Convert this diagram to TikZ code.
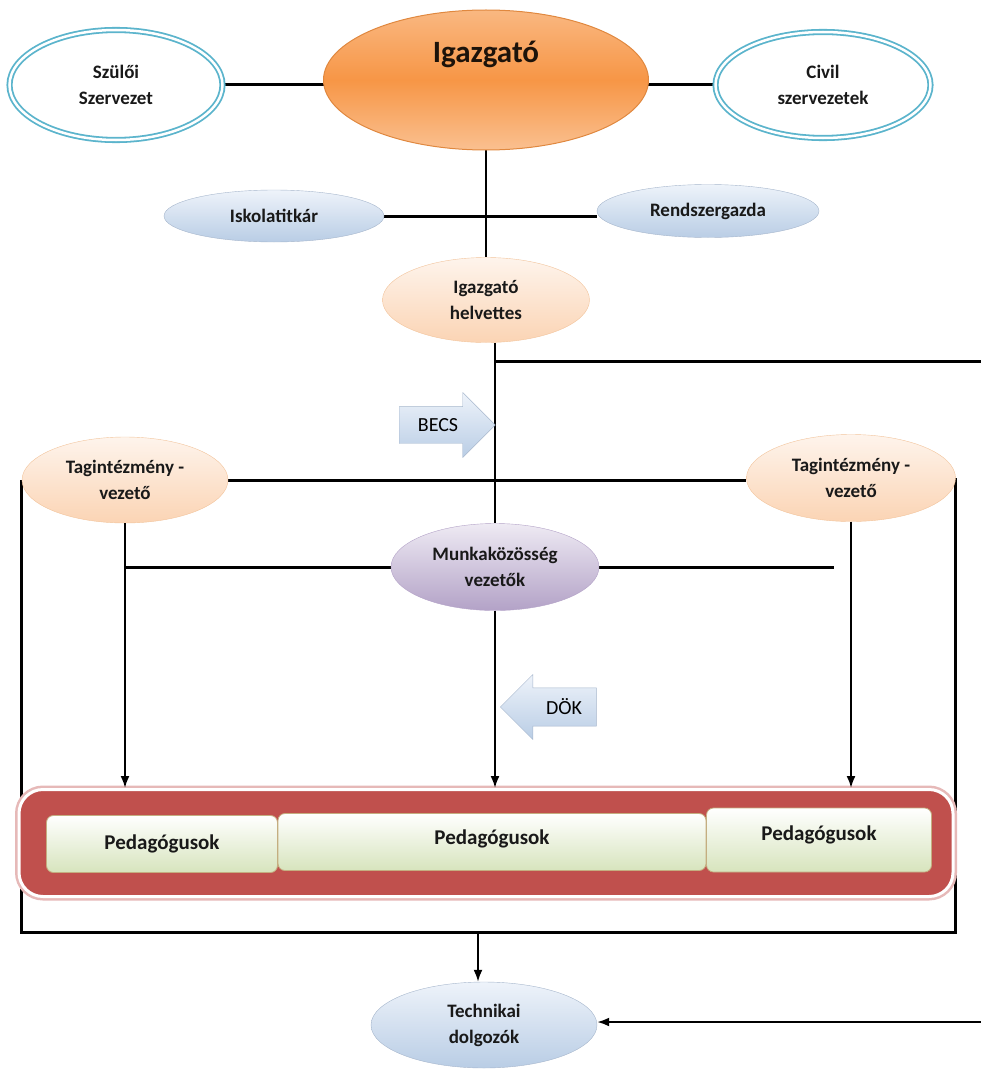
\documentclass[tikz,border=0pt]{standalone}
\usepackage{fontspec}
\setmainfont{Carlito}
\usetikzlibrary{shapes.geometric,shapes.arrows,arrows.meta,backgrounds}

\definecolor{narancs}{HTML}{F79646}
\definecolor{narancsvil}{HTML}{FAC090}
\definecolor{narancskeret}{HTML}{E0883F}
\definecolor{gyuru}{HTML}{5BB4CC}
\definecolor{kekvil}{HTML}{EEF3FA}
\definecolor{kek}{HTML}{B9CDE5}
\definecolor{kekkeret}{HTML}{A6B6CC}
\definecolor{barack}{HTML}{FBD4B4}
\definecolor{barackvil}{HTML}{FEF4EC}
\definecolor{barackkeret}{HTML}{F2C49C}
\definecolor{lila}{HTML}{B3A2C7}
\definecolor{lilavil}{HTML}{EEEAF3}
\definecolor{piros}{HTML}{C0504D}
\definecolor{rozsa}{HTML}{E6B9B8}
\definecolor{zold}{HTML}{D7E4BD}
\definecolor{zoldkeret}{HTML}{C4AE80}

\tikzset{
  cimke/.style={font=\bfseries\fontsize{19}{26}\selectfont, align=center, text=black!90},
  fonok/.style={ellipse, inner sep=0pt, draw=narancskeret, line width=1pt,
    top color=narancsvil!80!narancs, bottom color=narancsvil, middle color=narancs},
  gyurus/.style={cimke, ellipse, inner sep=0pt, draw=gyuru, double=white,
    double distance=2.5pt, line width=1.8pt, fill=white},
  kekes/.style={cimke, ellipse, inner sep=0pt, draw=kekkeret, top color=kekvil, bottom color=kek},
  barackos/.style={cimke, ellipse, inner sep=0pt, draw=barackkeret, top color=barackvil, bottom color=barack},
  lilas/.style={cimke, ellipse, inner sep=0pt, draw=lila, top color=lilavil, bottom color=lila},
  nyil/.style={single arrow, single arrow head extend=12pt, single arrow head indent=0pt,
    inner xsep=0pt, inner ysep=9pt, minimum width=65pt, minimum height=96pt, draw=kekkeret,
    top color=kekvil, bottom color=kek, font=\fontsize{20}{24}\selectfont},
  tanar/.style={cimke, font=\bfseries\fontsize{21}{25}\selectfont, rounded corners=7pt,
    draw=zoldkeret, line width=0.8pt, top color=white, bottom color=zold, inner sep=0pt},
  vonal/.style={line width=3pt},
  fuggo/.style={line width=2pt},
  lefele/.style={line width=2pt, -{Latex[length=12pt,width=9pt]}}
}

\begin{document}
\begin{tikzpicture}[x=1pt,y=-1pt]
\useasboundingbox (0,0) rectangle (981,1070);

% felso szint
\node[fonok, minimum width=325pt, minimum height=140pt,
  label={[font=\bfseries\fontsize{31}{36}\selectfont, text=black!85!brown, label distance=-62pt]90:Igazgató}]
  (igazgato) at (486,80) {};
\node[gyurus, minimum width=213pt, minimum height=110pt] (szulo) at (116,85) {Szülői\\Szervezet};
\node[gyurus, minimum width=215pt, minimum height=106pt] (civil) at (823,85) {Civil\\szervezetek};
\node[kekes, minimum width=220pt, minimum height=52pt] (titkar) at (274,216) {Iskolatitkár};
\node[kekes, minimum width=222pt, minimum height=53pt] (rendszer) at (708,211) {Rendszergazda};
\node[barackos, minimum width=207pt, minimum height=85pt] (helyettes) at (486,300) {Igazgató\\helvettes};

% kozepso szint
\node[nyil] (becs) at (438,425) {BECS};
\node[barackos, minimum width=206pt, minimum height=86pt] (tagbal) at (125,480) {Tagintézmény -\\vezető};
\node[barackos, minimum width=209pt, minimum height=87pt] (tagjobb) at (851,478) {Tagintézmény -\\vezető};
\node[lilas, minimum width=208pt, minimum height=87pt] (munka) at (495,567) {Munkaközösség\\vezetők};
\node[nyil, shape border rotate=180] (dok) at (558,707) {\hspace*{12pt}DÖK};

% pedagogusok
\node[draw=white, line width=3pt, fill=piros, rounded corners=24pt,
  preaction={draw=rozsa, line width=8pt},
  minimum width=934pt, minimum height=107pt] (kar) at (486,843) {};
\node[tanar, minimum width=231pt, minimum height=57pt] (ped1) at (162,844) {Pedagógusok};
\node[tanar, minimum width=428pt, minimum height=57pt, text depth=10pt] (ped2) at (492,842) {Pedagógusok};
\node[tanar, minimum width=225pt, minimum height=64pt, text depth=14pt] (ped3) at (819,840) {Pedagógusok};

\node[kekes, minimum width=226pt, minimum height=86pt] (technikai) at (484,1025) {Technikai\\dolgozók};

\coordinate (kijobb) at (981,361);
\coordinate (mjobb) at (834,568);
\coordinate (keretalj) at (478,932);
\coordinate (bejovo) at (981,1022);

\begin{scope}[on background layer]
\draw[vonal] (szulo.east) -- (szulo.east -| igazgato.center);
\draw[vonal] (civil.west) -- (civil.west -| igazgato.center);
\draw[fuggo] (igazgato.center) -- (igazgato.center |- helyettes.north);
\draw[vonal] (titkar.east) -- (titkar.east -| rendszer.west);
\draw[fuggo] (munka.north |- helyettes.south) -- (munka.north);
\draw[vonal] (munka.north |- kijobb) -- (kijobb);
\draw[vonal] (tagbal.east) -- (tagbal.east -| tagjobb.west);
\draw[vonal] (munka.west) -- (munka.west -| tagbal.south);
\draw[vonal] (munka.east) -- (munka.east -| mjobb);
\draw[vonal] (tagbal.west) |- (keretalj) -| (tagjobb.east);
\end{scope}

\draw[lefele] (tagbal.south) -- (tagbal.south |- kar.north);
\draw[lefele] (munka.south) -- (munka.south |- kar.north);
\draw[lefele] (tagjobb.south) -- (tagjobb.south |- kar.north);
\draw[lefele] (keretalj) -- (keretalj |- technikai.north);
\draw[lefele] (bejovo) -- (bejovo -| technikai.east);
\end{tikzpicture}
\end{document}
